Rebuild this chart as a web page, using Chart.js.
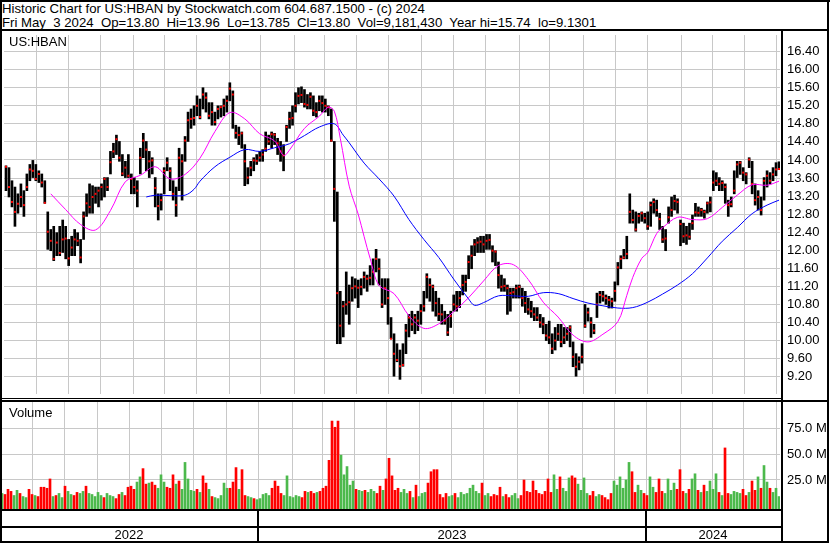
<!DOCTYPE html>
<html>
<head>
<meta charset="utf-8">
<script src="https://cdn.jsdelivr.net/npm/chart.js@4.4.1/dist/chart.umd.min.js"></script>
<style>
    body { margin: 0; background: #fff; }
    #wrap { position: relative; width: 830px; height: 543px; overflow: hidden; background: #fff;
            font-family: "Liberation Sans", Arial, sans-serif; color: #000; }
    canvas { position: absolute; left: 0; }
    .ln { position: absolute; background: #000; }
    .txt { position: absolute; white-space: pre; font-size: 13px; line-height: 15px; }
</style>
</head>
<body>
<div id="wrap">
    <canvas id="priceChart" width="830" height="367" style="top:31px"></canvas>
    <canvas id="volumeChart" width="830" height="107" style="top:402px"></canvas>
    <div class="txt" style="left:2px;top:1px;font-size:13.2px">Historic Chart for US:HBAN by Stockwatch.com 604.687.1500 - (c) 2024</div>
    <div class="txt" style="left:2px;top:15px;font-size:13.2px">Fri May  3 2024  Op=13.80  Hi=13.96  Lo=13.785  Cl=13.80  Vol=9,181,430  Year hi=15.74  lo=9.1301</div>
    <div class="txt" style="left:9px;top:34px">US:HBAN</div>
    <div class="txt" style="left:9px;top:405px">Volume</div>
</div>
<script>
// one entry per bar slot (about two trading days), May 2022 -> May 3 2024
const high = [
    13.87,13.83,13.54,13.40,13.25,13.47,13.32,13.69,13.90,13.99,
    13.90,13.76,13.69,13.54,12.85,12.46,12.53,12.39,12.53,12.67,
    12.53,12.24,12.31,12.46,12.39,12.24,12.85,13.25,13.47,13.43,
    13.40,13.40,13.47,13.61,13.61,14.19,14.37,14.55,14.41,14.12,
    13.97,14.12,13.69,13.61,13.54,14.26,14.59,14.41,14.19,14.05,
    13.61,13.25,13.25,13.83,14.05,13.83,13.54,13.40,14.26,14.12,
    14.52,15.06,15.13,15.20,15.42,15.35,15.60,15.49,15.27,15.27,
    15.06,15.20,15.20,15.35,15.42,15.71,15.53,14.77,14.73,14.62,
    14.34,13.83,13.97,14.05,14.12,14.19,14.23,14.62,14.55,14.62,
    14.59,14.48,14.41,14.34,14.77,15.06,15.20,15.49,15.60,15.62,
    15.56,15.45,15.49,15.42,15.27,15.42,15.42,15.35,15.20,15.13,
    14.41,13.29,11.09,10.87,11.52,11.23,11.41,11.37,11.34,11.37,
    11.52,11.45,11.66,11.81,12.02,11.81,11.37,11.37,11.37,10.51,
    10.15,9.93,9.79,9.93,10.36,10.58,10.65,10.58,10.65,10.80,
    11.09,11.48,11.37,11.23,11.09,10.94,10.80,10.65,10.58,10.65,
    11.01,11.09,11.09,11.45,11.45,11.88,12.10,12.24,12.28,12.31,
    12.31,12.35,12.35,12.10,11.99,11.74,11.45,11.37,11.23,11.16,
    11.16,11.23,11.23,11.16,11.09,10.94,10.87,10.73,10.73,10.58,
    10.51,10.36,10.43,10.15,10.29,10.36,10.36,10.29,10.29,10.33,
    9.97,9.71,9.64,9.93,10.80,10.72,10.51,10.36,11.05,11.09,
    11.09,11.01,10.98,10.94,11.30,11.73,11.88,12.02,12.31,13.25,
    12.89,12.85,12.82,12.85,12.82,12.85,13.07,13.14,13.11,12.82,
    12.53,12.46,12.96,13.18,13.22,13.14,12.67,12.60,12.53,12.60,
    12.78,13.04,12.96,12.93,12.89,13.07,13.18,13.76,13.72,13.61,
    13.54,13.47,13.11,13.18,13.76,13.97,13.97,13.83,13.72,14.05,
    13.97,13.47,13.32,13.18,13.61,13.76,13.72,13.83,13.94,13.96
];
const low = [
    13.32,13.18,12.96,12.53,12.82,12.96,12.75,13.32,13.54,13.61,
    13.54,13.50,13.40,13.04,12.02,11.99,11.77,11.88,11.88,11.95,
    11.81,11.66,11.88,11.88,12.10,11.72,12.24,12.75,12.82,12.82,
    13.04,12.96,13.11,13.18,13.32,13.69,14.05,14.12,13.97,13.65,
    13.61,13.61,13.25,13.25,12.96,13.69,14.05,13.76,13.61,13.69,
    12.96,12.67,12.89,13.25,13.76,13.32,13.11,12.75,13.32,13.11,
    13.97,14.41,14.70,14.77,14.98,14.91,15.13,15.06,14.91,14.77,
    14.77,14.91,14.95,14.98,15.06,15.31,14.70,14.48,14.34,14.26,
    13.43,13.47,13.65,13.76,13.90,13.97,13.97,14.19,14.34,14.26,
    14.34,14.12,13.97,13.76,14.41,14.70,14.77,15.06,15.24,15.27,
    15.17,15.13,15.13,14.98,14.95,15.09,15.06,15.06,14.98,14.41,
    12.64,9.93,9.93,10.08,10.58,10.36,10.87,10.94,10.73,11.01,
    11.16,11.09,11.23,11.23,11.52,11.23,10.73,10.80,10.36,10.04,
    9.21,9.53,9.14,9.43,9.71,10.08,10.22,10.15,10.22,10.36,
    10.65,10.94,10.87,10.65,10.54,10.44,10.36,10.36,10.11,10.29,
    10.65,10.65,10.73,11.01,11.09,11.37,11.59,11.88,11.95,11.95,
    11.95,12.02,12.02,11.74,11.66,11.16,11.09,11.09,10.58,10.65,
    10.94,10.94,10.94,10.76,10.62,10.58,10.51,10.44,10.44,10.29,
    10.15,10.00,9.93,9.71,9.79,10.00,9.86,9.93,10.00,9.86,
    9.42,9.21,9.35,9.50,10.29,10.43,10.07,10.15,10.51,10.83,
    10.87,10.80,10.72,10.72,10.87,11.23,11.59,11.81,11.81,12.60,
    12.60,12.42,12.60,12.64,12.60,12.46,12.53,12.82,12.75,12.46,
    12.17,11.99,12.60,12.75,12.89,12.82,12.10,12.17,12.13,12.24,
    12.46,12.75,12.75,12.75,12.71,12.82,12.85,13.32,13.43,13.32,
    13.32,13.04,12.75,12.96,13.25,13.61,13.68,13.54,13.47,13.83,
    13.25,13.00,12.89,12.78,13.11,13.40,13.47,13.54,13.65,13.785
];
const close = [
    13.85,13.40,13.07,12.85,13.03,13.18,13.00,13.40,13.79,13.76,
    13.58,13.69,13.50,13.05,12.41,12.21,11.81,12.17,11.94,12.24,
    12.26,11.82,12.06,12.24,12.21,11.84,12.75,13.04,12.96,13.18,
    13.25,13.32,13.40,13.58,13.40,13.95,14.19,14.46,14.05,13.70,
    13.83,13.65,13.58,13.40,13.32,14.05,14.43,14.23,13.97,13.99,
    13.38,12.98,13.11,13.76,13.94,13.76,13.25,13.00,14.05,13.97,
    14.43,14.88,14.91,14.93,15.20,14.95,15.45,15.38,14.98,15.06,
    14.84,15.13,15.17,15.20,15.31,15.58,15.45,14.60,14.55,14.59,
    13.97,13.61,13.83,13.99,13.98,14.05,14.12,14.25,14.41,14.57,
    14.56,14.37,14.19,14.10,14.73,14.91,14.93,15.20,15.42,15.44,
    15.24,15.22,15.40,15.09,15.06,15.31,15.26,15.20,15.17,14.43,
    13.36,11.05,10.33,10.76,10.80,10.85,11.16,11.20,11.17,11.19,
    11.41,11.37,11.39,11.52,11.81,11.59,10.80,11.16,10.94,10.04,
    9.71,9.57,9.43,9.46,10.22,10.51,10.36,10.51,10.44,10.65,
    10.76,11.41,11.23,11.19,10.83,10.59,10.58,10.44,10.18,10.54,
    10.80,10.76,10.94,11.23,11.30,11.74,11.88,12.13,12.17,12.19,
    12.13,12.21,12.23,11.99,11.97,11.45,11.19,11.21,11.16,11.05,
    11.07,11.16,11.19,10.94,10.83,10.69,10.65,10.58,10.51,10.40,
    10.36,10.11,10.07,9.82,10.00,10.15,9.97,10.07,10.15,10.29,
    9.64,9.42,9.53,9.64,10.33,10.62,10.40,10.22,10.80,11.01,
    10.98,10.94,10.90,10.87,11.10,11.62,11.81,11.84,11.92,12.85,
    12.67,12.46,12.76,12.82,12.71,12.53,13.00,13.07,12.89,12.69,
    12.24,12.26,12.73,12.89,13.09,13.07,12.58,12.31,12.33,12.30,
    12.60,12.84,12.83,12.89,12.85,13.04,13.06,13.50,13.54,13.47,
    13.49,13.40,13.00,13.02,13.32,13.90,13.94,13.72,13.68,14.01,
    13.47,13.11,13.18,12.89,13.54,13.65,13.54,13.68,13.79,13.80
];
// volume in millions of shares
const volume = [
    12,11,16,14,10,15,12,9,8,16,
    11,10,9,18,18,17,26,9,10,12,
    8,19,14,11,10,13,12,14,19,12,
    11,9,13,10,8,12,10,9,7,11,
    13,10,18,19,16,23,28,36,21,22,
    23,20,17,30,23,18,17,30,21,24,
    16,42,26,15,14,16,13,29,22,16,
    9,8,7,10,22,17,17,23,37,16,
    35,10,9,8,7,6,7,11,12,10,
    17,24,19,12,10,29,9,8,10,9,
    8,14,13,14,12,13,14,17,19,44,
    82,76,82,49,30,38,20,24,16,15,
    14,15,13,16,14,12,19,15,26,46,
    29,15,17,13,16,12,14,8,20,9,
    12,13,22,33,35,35,11,8,12,9,
    10,12,8,13,11,12,17,20,14,12,
    22,10,12,9,11,10,18,9,11,8,
    10,12,7,10,25,14,13,24,15,12,
    11,14,26,13,30,16,28,17,14,27,
    29,27,21,15,27,12,10,14,9,11,
    10,8,6,12,24,20,28,17,25,42,
    33,13,20,15,12,10,28,18,13,26,
    14,12,26,15,22,16,35,14,12,16,
    26,31,15,13,20,14,24,16,31,13,
    10,56,12,11,14,13,12,16,10,13,
    24,15,28,17,39,23,17,13,17,9
];

// moving averages read at sample slots
const shortMaSlots = [15,20,25,30,35,40,45,50,55,60,65,70,75,80,85,90,93,95,100,105,
    108,110,112,115,118,120,122,125,130,135,140,145,150,155,160,165,170,175,180,185,
    190,195,200,205,208,210,213,215,218,220,225,230,235,240,245,250,255,259];
const shortMa = [13.25,12.90,12.57,12.45,12.88,13.52,13.66,13.85,13.58,13.68,14.04,14.63,15.05,14.91,14.58,14.42,14.10,14.22,14.70,14.97,
    15.17,15.08,14.48,13.42,12.80,12.30,11.82,11.22,11.04,10.55,10.27,10.37,10.64,10.95,11.32,11.66,11.68,11.35,10.85,10.52,
    10.12,9.97,10.14,10.42,11.00,11.40,11.82,11.95,12.37,12.50,12.73,12.68,12.70,12.95,13.22,13.45,13.44,13.53];
const longMaSlots = [47,50,55,60,63,65,70,75,80,85,90,95,100,105,110,113,115,120,125,130,
    135,140,145,150,155,157,160,165,170,175,180,185,190,195,200,205,210,215,220,225,
    230,235,240,245,250,255,259];
const longMa = [13.18,13.22,13.21,13.22,13.35,13.53,13.85,14.06,14.23,14.19,14.27,14.36,14.54,14.73,14.80,14.55,14.38,13.93,13.58,13.20,
    12.68,12.24,11.84,11.36,10.92,10.78,10.84,10.99,10.99,10.98,11.06,11.04,10.93,10.83,10.77,10.72,10.73,10.85,11.03,11.23,
    11.48,11.83,12.20,12.50,12.81,13.00,13.11];

// slot at which each month begins (Jun 2022 .. May 2024)
const monthStarts = [10.2,20.9,31.7,42.6,53.1,63.9,74.8,85.4,96.7,106.7,117.5,128.2,139.3,149.8,160.6,171.9,182.1,193.4,204.2,214.8,226.2,236.7,247.3,258.2];
const years = ["2022", "2023", "2024"];
const yearStarts = [85.4, 214.8];

const priceTicks = [9.2,9.6,10.0,10.4,10.8,11.2,11.6,12.0,12.4,12.8,13.2,13.6,14.0,14.4,14.8,15.2,15.6,16.0,16.4];
const volumeTicks = [25, 50, 75];

const gridColor = "#c8c8c8";
const font = { family: "'Liberation Sans', Arial, sans-serif", size: 13 };
const slots = close.map((c, i) => i);
const xMin = -0.67;
const xMax = 259.33;

// chart.js reserves room for edge labels; the panels here use the full height
function noPadding(scale) {
    scale.paddingTop = 0;
    scale.paddingBottom = 0;
    scale.paddingLeft = 0;
    scale.paddingRight = 0;
}

function xAxis() {
    return {
        type: "linear",
        min: xMin,
        max: xMax,
        offset: false,
        afterBuildTicks: (scale) => { scale.ticks = monthStarts.map((v) => ({ value: v })); },
        afterFit: (scale) => { scale.height = 0; noPadding(scale); },
        ticks: { display: false },
        grid: { color: gridColor, drawTicks: false, offset: false },
        border: { display: false }
    };
}

function yAxis(min, max, ticks, format) {
    return {
        type: "linear",
        position: "right",
        min: min,
        max: max,
        afterBuildTicks: (scale) => { scale.ticks = ticks.map((v) => ({ value: v })); },
        afterFit: (scale) => { scale.width = 50; noPadding(scale); },
        ticks: { color: "#000", font: font, padding: 7, autoSkip: false, callback: format },
        grid: { color: gridColor, drawTicks: false },
        border: { display: false }
    };
}

const baseOptions = {
    responsive: false,
    animation: false,
    devicePixelRatio: 1,
    layout: { padding: 0 },
    plugins: { legend: { display: false }, tooltip: { enabled: false } }
};

const priceChart = new Chart(document.getElementById("priceChart"), {
    type: "bar",
    data: {
        datasets: [
            {
                type: "line",
                label: "Short MA",
                data: shortMaSlots.map((s, k) => ({ x: s, y: shortMa[k] })),
                borderColor: "#ff00ff",
                borderWidth: 1,
                pointRadius: 0,
                tension: 0.35,
                order: 0
            },
            {
                type: "line",
                label: "Long MA",
                data: longMaSlots.map((s, k) => ({ x: s, y: longMa[k] })),
                borderColor: "#0000ff",
                borderWidth: 1,
                pointRadius: 0,
                tension: 0.35,
                order: 1
            },
            {
                type: "line",
                label: "Close",
                data: slots.map((i) => ({ x: i, y: close[i] })),
                showLine: false,
                pointStyle: "rect",
                pointRadius: 1.4,
                pointBorderWidth: 0,
                pointBackgroundColor: "#ff0000",
                order: 2
            },
            {
                type: "bar",
                label: "Range",
                data: slots.map((i) => ({ x: i, y: [low[i], high[i]] })),
                backgroundColor: "#000",
                barThickness: 2,
                grouped: false,
                order: 3
            }
        ]
    },
    options: {
        ...baseOptions,
        scales: {
            x: xAxis(),
            y: yAxis(8.816, 16.768, priceTicks, (v) => Number(v).toFixed(2))
        }
    }
});

const volumeColors = slots.map((i) => {
    if (i === 0 || close[i] > close[i - 1]) return "#4cb94c";
    if (close[i] < close[i - 1]) return "#ff0000";
    return "#a0a0a0";
});

const volumeChart = new Chart(document.getElementById("volumeChart"), {
    type: "bar",
    data: {
        datasets: [
            {
                label: "Volume",
                data: slots.map((i) => ({ x: i, y: volume[i] })),
                backgroundColor: volumeColors,
                barThickness: 2,
                base: -3.05
            }
        ]
    },
    options: {
        ...baseOptions,
        scales: {
            x: xAxis(),
            y: yAxis(-3.05, 100.43, volumeTicks, (v) => Number(v).toFixed(1) + " M")
        }
    }
});

// frame lines and the year band under the volume panel
const wrap = document.getElementById("wrap");

function addLine(left, top, width, height) {
    const el = document.createElement("div");
    el.className = "ln";
    el.style.cssText = `left:${left}px;top:${top}px;width:${width}px;height:${height}px`;
    wrap.appendChild(el);
}

function addText(text, left, top, width) {
    const el = document.createElement("div");
    el.className = "txt";
    el.style.cssText = `left:${left}px;top:${top}px;width:${width}px;text-align:center`;
    el.textContent = text;
    wrap.appendChild(el);
}

const xs = volumeChart.scales.x;
const area = volumeChart.chartArea;
const axisRight = Math.round(area.right);

addLine(0, 0, 830, 2);
addLine(0, 0, 2, 543);
addLine(827, 0, 2, 543);
addLine(0, 541, 829, 2);
addLine(0, 29, 829, 2);
addLine(axisRight + 1, 31, 2, 510);
addLine(0, 398, axisRight + 1, 1);
addLine(0, 400, 829, 2);
addLine(0, 509, axisRight + 1, 2);
addLine(0, 526, axisRight + 1, 2);

const edges = [area.left].concat(yearStarts.map((v) => Math.round(xs.getPixelForValue(v))), [axisRight]);
yearStarts.forEach((v, k) => addLine(edges[k + 1] - 1, 510, 2, 31));
years.forEach((y, k) => addText(y, edges[k], 527, edges[k + 1] - edges[k]));
</script>
</body>
</html>
